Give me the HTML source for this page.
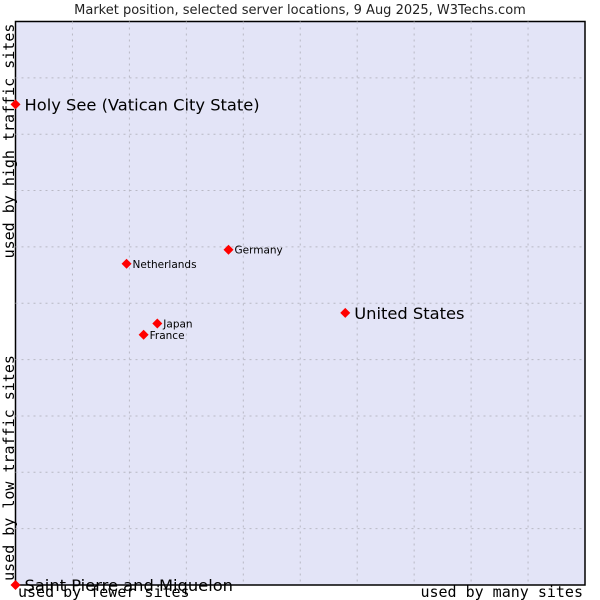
<!DOCTYPE html>
<html><head><meta charset="utf-8"><style>
body{margin:0;background:#fff;}
svg{display:block;}
</style></head><body>
<svg id="chart" width="600" height="600" xmlns="http://www.w3.org/2000/svg">
<text x="300" y="14" text-anchor="middle" font-family="DejaVu Sans, sans-serif" font-size="13" fill="#222">Market position, selected server locations, 9 Aug 2025, W3Techs.com</text>
<rect x="15.5" y="21.5" width="569.5" height="563.5" fill="#e3e4f7" stroke="#000" stroke-width="1.5"/>
<g id="grid"></g>
<g id="points"></g>
<text transform="translate(14,141) rotate(-90)" text-anchor="middle" font-family="DejaVu Sans Mono, monospace" font-size="15" fill="#000">used by high traffic sites</text>
<text transform="translate(14,468) rotate(-90)" text-anchor="middle" font-family="DejaVu Sans Mono, monospace" font-size="15" fill="#000">used by low traffic sites</text>
<text x="18" y="597" font-family="DejaVu Sans Mono, monospace" font-size="15" fill="#000">used by fewer sites</text>
<text x="583" y="597" text-anchor="end" font-family="DejaVu Sans Mono, monospace" font-size="15" fill="#000">used by many sites</text>
</svg>
<script>
const names=["Holy See (Vatican City State)","Saint Pierre and Miquelon","United States","Germany","Netherlands","Japan","France"];
const xVals=[0,0,57.9,37.4,19.5,24.9,22.5];
const yVals=[85.3,0,48.3,59.5,57,46.4,44.4];
const bigLabel=[true,true,true,false,false,false,false];
const L=15.5,R=585,T=21.5,B=585;
const sx=v=>L+(R-L)*v/100, sy=v=>B-(B-T)*v/100;
const NS="http://www.w3.org/2000/svg";
const grid=document.getElementById('grid');
for(let i=1;i<10;i++){
  const v=document.createElementNS(NS,'line');
  
  
  v.setAttribute('x1',sx(i*10));v.setAttribute('x2',sx(i*10));v.setAttribute('y1',T);v.setAttribute('y2',B);
  v.setAttribute('stroke','#b8b8c4');v.setAttribute('stroke-dasharray','2,4');
  grid.appendChild(v);
  const h=document.createElementNS(NS,'line');
  
  
  h.setAttribute('y1',sy(i*10));h.setAttribute('y2',sy(i*10));h.setAttribute('x1',L);h.setAttribute('x2',R);
  h.setAttribute('stroke','#b8b8c4');h.setAttribute('stroke-dasharray','2,4');
  grid.appendChild(h);
}
const pts=document.getElementById('points');
names.forEach((n,i)=>{
  const x=sx(xVals[i]),y=sy(yVals[i]);
  const d=document.createElementNS(NS,'polygon');
  
  
  d.setAttribute('points',`${x},${y-5} ${x+5},${y} ${x},${y+5} ${x-5},${y}`);
  d.setAttribute('fill','#f00');
  pts.appendChild(d);
  const t=document.createElementNS(NS,'text');
  
  
  t.setAttribute('x',x+(bigLabel[i]?9:6));
  t.setAttribute('y',y+(bigLabel[i]?6:4));
  t.setAttribute('font-family','DejaVu Sans, sans-serif');
  t.setAttribute('font-size',bigLabel[i]?16.3:10.5);
  t.setAttribute('fill','#000');
  t.textContent=n;
  pts.appendChild(t);
});
</script>
</body></html>
